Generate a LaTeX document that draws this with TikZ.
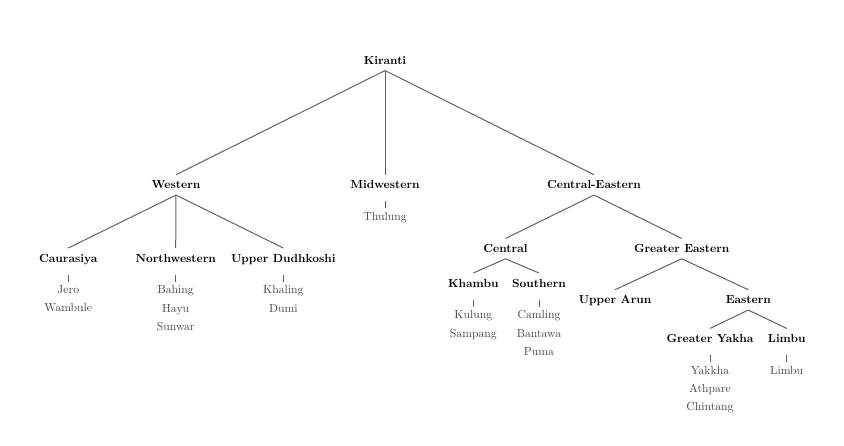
\documentclass[tikz,border=0pt]{standalone}
\usetikzlibrary{positioning}
\tikzset{
grp/.style={font=\bfseries,anchor=base,text height=7pt,text depth=0pt,inner ysep=5pt},
lvs/.style={text=black!72,align=center,font=\fontsize{10}{15.65}\selectfont,inner sep=0pt,below=14.6pt of #1},
br/.style={draw=black!62,line width=0.85pt},
tick/.style={br,shorten <=5.4pt,shorten >=3.2pt},
}
\begin{document}
\begin{tikzpicture}[x=0.855pt,y=0.855pt]
\useasboundingbox (0,0) rectangle (844,446);
%
\node[grp](Kir) at (385,381.5){Kiranti};
\node[grp](West) at (176,257){Western};
\node[grp](Midw) at (385,257){Midwestern};
\node[grp](CEast) at (594,257){Central-Eastern};
\node[grp](Caur) at (68.3,183.7){Caurasiya};
\node[grp](NWest) at (175.7,183.7){Northwestern};
\node[grp](UDud) at (283.3,183.7){Upper Dudhkoshi};
\node[grp](Cent) at (505.5,193.3){Central};
\node[grp](GEast) at (681.7,193.3){Greater Eastern};
\node[grp](Kham) at (473.3,158.7){Khambu};
\node[grp](South) at (539,158.7){Southern};
\node[grp](UArun) at (615,142){Upper Arun};
\node[grp](East) at (748.3,142){Eastern};
\node[grp](GYak) at (710,103.3){Greater Yakha};
\node[grp](Limb) at (786.7,103.3){Limbu};
%
\node[lvs=Midw](MidwL){Thulung};
\node[lvs=Caur](CaurL){Jero\\Wambule};
\node[lvs=NWest](NWestL){Bahing\\Hayu\\Sunwar};
\node[lvs=UDud](UDudL){Khaling\\Dumi};
\node[lvs=Kham](KhamL){Kulung\\Sampang};
\node[lvs=South](SouthL){Camling\\Bantawa\\Puma};
\node[lvs=GYak](GYakL){Yakkha\\Athpare\\Chintang};
\node[lvs=Limb](LimbL){Limbu};
%
\foreach \a/\b in {Kir/West,Kir/Midw,Kir/CEast,West/Caur,West/NWest,West/UDud,CEast/Cent,CEast/GEast,Cent/Kham,Cent/South,GEast/UArun,GEast/East,East/GYak,East/Limb}
\draw[br](\a.south)--(\b.north);
\foreach \a in {Midw,Caur,NWest,UDud,Kham,South,GYak,Limb}
\draw[tick](\a.south)--(\a L.north);
\end{tikzpicture}
\end{document}
